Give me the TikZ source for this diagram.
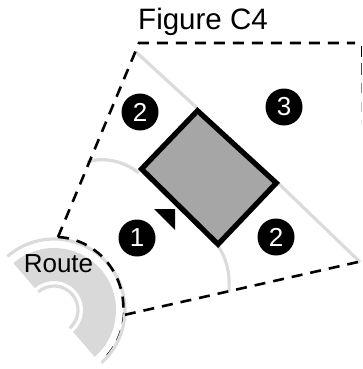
\documentclass[tikz,border=0pt]{standalone}
\usepackage{fontspec}
\setmainfont{Liberation Sans}
\usetikzlibrary{calc}
\tikzset{
  road/.style={draw=black!14,line width=3.2pt,line cap=butt},
  limit/.style={draw=black,line width=2.6pt,dash pattern=on 11pt off 8pt},
  badge/.style={circle,fill=black,minimum size=37pt,inner sep=0pt,text=white,font=\fontsize{26}{26}\selectfont},
  rdash/.style={line width=1.5pt}
}
\begin{document}
\begin{tikzpicture}[x=1pt,y=-1pt]
\useasboundingbox (0,0) rectangle (362,369);
% route band
\coordinate (c) at (54,310);
\fill[black!15] ($(c)+(229:62)$) arc (229:409:62) -- ($(c)+(49:29)$) arc (409:229:29) -- cycle;
\draw[road] ($(c)+(229:24)$) arc (229:409:24);
% thin lower dashes under the road line
\draw[black,line width=1.2pt,dash pattern=on 11pt off 7pt] ($(c)+(2:69.5)$) arc (2:43:69.5);
\draw[road] ($(c)+(229:71)$) arc (229:408:71);
% site limit
\coordinate (p1) at (58,237);
\coordinate (p2) at (139,43);
\coordinate (p3) at (355,43);
\coordinate (p4) at (358,262);
\coordinate (p5) at (124,315);
% grey setback lines
\coordinate (g1) at (136,52);
\coordinate (g2) at (197,108);
\coordinate (g3) at (278,183);
\coordinate (g4) at (360,262);
\draw[road] (g1) -- (g2);
\draw[road] (g3) -- (g4);
\draw[road] (87,162) .. controls (103,157) and (122,160) .. (139,173);
\draw[road] (218,246) .. controls (226,258) and (230,270) .. (229,291);
% dashed outline
\draw[limit] (p1) -- (p2) -- (p3);
\draw[limit] (p4) -- (p5);
\draw[limit] (p1) arc (273:362:69 and 71);
% fading right edge
\draw[rdash,black] (361.3,46) -- (361.3,57);
\draw[rdash,black!70] (361.3,63) -- (361.3,75);
\draw[rdash,black!45] (361.3,83) -- (361.3,93);
\draw[rdash,black!25] (361.3,102) -- (361.3,112);
\draw[rdash,black!10] (361.3,120) -- (361.3,125);
% building
\draw[fill=black!35,line width=5.2pt,miter limit=10] (197.5,110.7) -- (276.3,183) -- (218,244.3) -- (141.5,169) -- cycle;
% entrance marker
\fill (154,209) -- (175,209) -- (175,230) -- cycle;
% labels
\node[badge] (n1) at (137,238) {1};
\node[badge] (n2a) at (140,112) {2};
\node[badge] (n2b) at (276,237) {2};
\node[badge] (n3) at (284,107) {3};
\node[inner sep=0pt,font=\fontsize{26}{26}\selectfont] (route) at (58.5,264) {Route};
\node[inner sep=0pt,font=\fontsize{29.5}{29.5}\selectfont] (title) at (203,22) {Figure C4};
\end{tikzpicture}
\end{document}
